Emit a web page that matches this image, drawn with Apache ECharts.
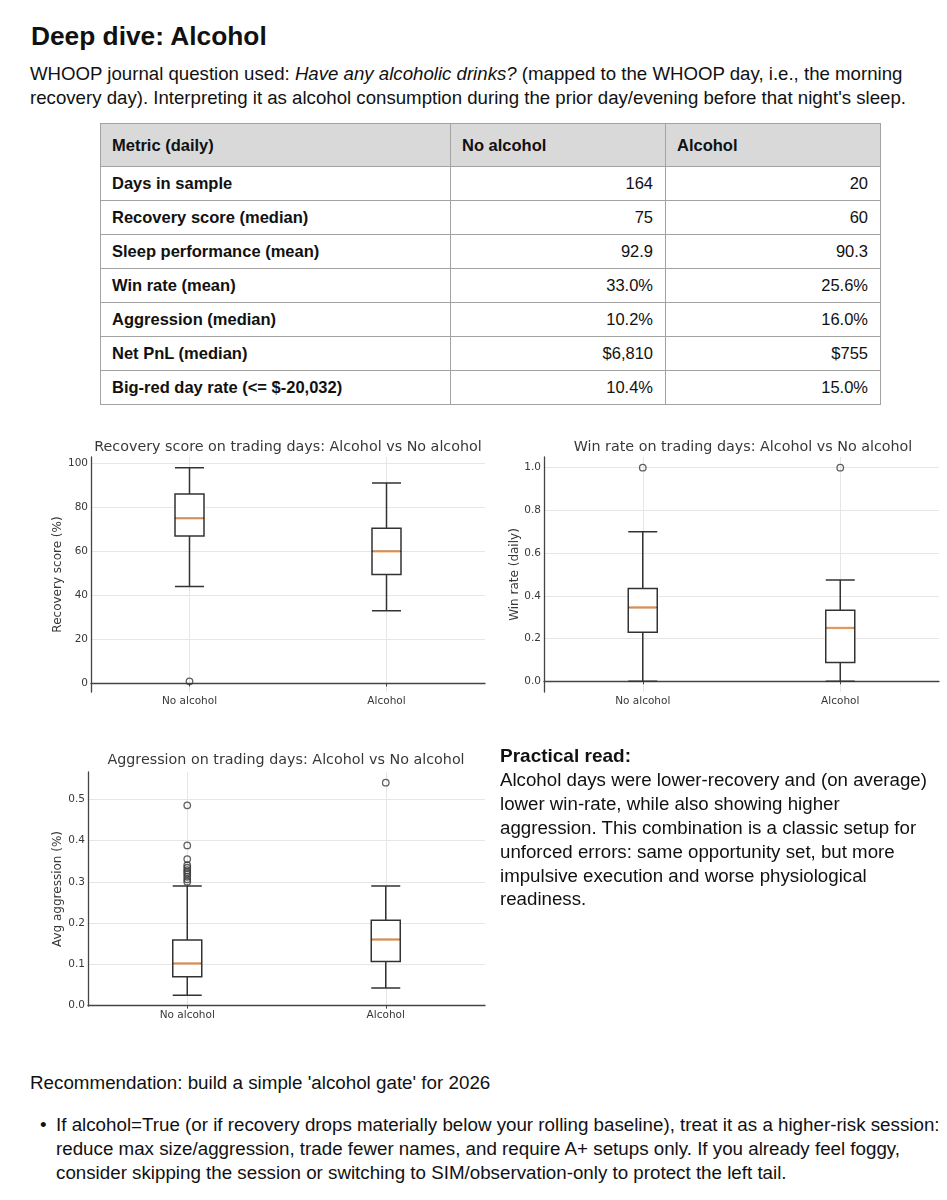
<!DOCTYPE html>
<html>
<head>
<meta charset="utf-8">
<script src="https://cdn.jsdelivr.net/npm/echarts@6/dist/echarts.min.js"></script>
<style>
  html, body { margin: 0; padding: 0; background: #fff; }
  body { width: 947px; height: 1200px; position: relative; overflow: hidden; font-family: 'Liberation Sans', Arial, sans-serif; color: #111; }
  .abs { position: absolute; white-space: nowrap; }
  #title { left: 31px; top: 23px; font-size: 26.3px; line-height: 26px; font-weight: bold; }
  #intro { left: 30px; top: 62px; font-size: 18.65px; line-height: 24.4px; }
  #tbl { position: absolute; left: 100px; top: 123px; border-collapse: collapse; table-layout: fixed; width: 780px; font-size: 16.5px; }
  #tbl td { border: 1px solid #a3a3a3; padding: 0 12px 0 11px; height: 33px; vertical-align: middle; white-space: nowrap; font-weight: bold; }
  #tbl tr.hdr td { background: #d9d9d9; height: 42px; }
  #tbl td.num { text-align: right; font-weight: normal; }
  #practical { left: 500px; top: 744px; font-size: 18.7px; line-height: 23.9px; }
  #practical b { font-size: 19px; }
  #rec { left: 30px; top: 1071px; font-size: 18.8px; line-height: 24px; }
  #bullet { left: 56px; top: 1113px; font-size: 18.75px; line-height: 24px; }
  #dot { left: 40px; top: 1113px; font-size: 18.75px; line-height: 24px; }
  #chart { position: absolute; left: 0; top: 420px; width: 947px; height: 640px; }
</style>
</head>
<body>
<div id="title" class="abs">Deep dive: Alcohol</div>
<div id="intro" class="abs">WHOOP journal question used: <i>Have any alcoholic drinks?</i> (mapped to the WHOOP day, i.e., the morning<br>recovery day). Interpreting it as alcohol consumption during the prior day/evening before that night's sleep.</div>
<table id="tbl"><colgroup><col style="width:350px"><col style="width:215px"><col style="width:215px"></colgroup><tbody id="tbody"></tbody></table>
<div id="chart"></div>
<div id="practical" class="abs"><b>Practical read:</b><br>Alcohol days were lower-recovery and (on average)<br>lower win-rate, while also showing higher<br>aggression. This combination is a classic setup for<br>unforced errors: same opportunity set, but more<br>impulsive execution and worse physiological<br>readiness.</div>
<div id="rec" class="abs">Recommendation: build a simple 'alcohol gate' for 2026</div>
<div id="dot" class="abs">•</div>
<div id="bullet" class="abs">If alcohol=True (or if recovery drops materially below your rolling baseline), treat it as a higher-risk session:<br>reduce max size/aggression, trade fewer names, and require A+ setups only. If you already feel foggy,<br>consider skipping the session or switching to SIM/observation-only to protect the left tail.</div>
<script>
// ---- Table data ----
const tableHeader = ['Metric (daily)', 'No alcohol', 'Alcohol'];
const metrics = ['Days in sample', 'Recovery score (median)', 'Sleep performance (mean)', 'Win rate (mean)', 'Aggression (median)', 'Net PnL (median)', 'Big-red day rate (<= $-20,032)'];
const noAlcoholValues = ['164', '75', '92.9', '33.0%', '10.2%', '$6,810', '10.4%'];
const alcoholValues = ['20', '60', '90.3', '25.6%', '16.0%', '$755', '15.0%'];

// ---- Chart data ----
const categories = ['No alcohol', 'Alcohol'];
// [lower whisker, Q1, median, Q3, upper whisker]
const recoveryBoxes = [[44, 67, 75, 86, 98], [33, 49.5, 60, 70.5, 91]];
const recoveryOutliers = [[0, 1]];
const recoveryTicks = [0, 20, 40, 60, 80, 100];

const winRateBoxes = [[0, 0.23, 0.346, 0.435, 0.70], [0, 0.088, 0.25, 0.333, 0.474]];
const winRateOutliers = [[0, 1.0], [1, 1.0]];
const winRateTicks = [0, 0.2, 0.4, 0.6, 0.8, 1.0];

const aggressionBoxes = [[0.025, 0.070, 0.102, 0.159, 0.290], [0.043, 0.107, 0.160, 0.207, 0.290]];
const aggressionOutliers = [[0, 0.485], [0, 0.388], [0, 0.355], [0, 0.340], [0, 0.334], [0, 0.328], [0, 0.323], [0, 0.318], [0, 0.312], [0, 0.306], [0, 0.300], [1, 0.540]];
const aggressionTicks = [0, 0.1, 0.2, 0.3, 0.4, 0.5];

const chartTitles = ['Recovery score on trading days: Alcohol vs No alcohol', 'Win rate on trading days: Alcohol vs No alcohol', 'Aggression on trading days: Alcohol vs No alcohol'];
const yNames = ['Recovery score (%)', 'Win rate (daily)', 'Avg aggression (%)'];

// build table
(function () {
  const tb = document.getElementById('tbody');
  let html = '<tr class="hdr">' + tableHeader.map(h => '<td>' + h + '</td>').join('') + '</tr>';
  metrics.forEach((m, i) => {
    html += '<tr><td>' + m.replace(/</g, '&lt;') + '</td><td class="num">' + noAlcoholValues[i] + '</td><td class="num">' + alcoholValues[i] + '</td></tr>';
  });
  tb.innerHTML = html;
})();

const chart = echarts.init(document.getElementById('chart'), null, { renderer: 'canvas' });
const FONT = 'DejaVu Sans';
const gridColor = '#e6e6e6';
const axisColor = '#444';
const labelColor = '#383838';

const grids = [
  { left: 91, top: 37, width: 394, height: 235 },
  { left: 544, top: 37, width: 395, height: 235 },
  { left: 88, top: 352, width: 397, height: 234 }
];
const yCfg = [
  { min: -3.85, max: 102.85, ticks: recoveryTicks, fmt: v => String(Math.round(v)), gap: 27 },
  { min: -0.05, max: 1.05, ticks: winRateTicks, fmt: v => v.toFixed(1), gap: 23 },
  { min: -0.0008, max: 0.5658, ticks: aggressionTicks, fmt: v => v.toFixed(1), gap: 24 }
];
const titlePos = [[288, 27], [743, 27], [286, 340]];

const xAxes = [], yAxes = [], series = [];
grids.forEach((g, i) => {
  xAxes.push({
    type: 'category', gridIndex: i, data: categories,
    axisLine: { lineStyle: { color: axisColor, width: 1.3 } },
    axisTick: { show: true, alignWithLabel: true, length: 3, lineStyle: { color: axisColor } },
    axisLabel: { color: labelColor, fontFamily: FONT, fontSize: 10.5, margin: 4 },
    splitLine: { show: false }
  });
  xAxes.push({
    type: 'value', gridIndex: i, min: 0.5, max: 2.5, position: 'bottom',
    axisLine: { show: false }, axisLabel: { show: false },
    axisTick: { show: false, customValues: [1, 2] },
    splitLine: { show: true, lineStyle: { color: gridColor, width: 1 } }
  });
  const c = yCfg[i];
  yAxes.push({
    type: 'value', gridIndex: i, min: c.min, max: c.max,
    name: yNames[i], nameLocation: 'middle', nameGap: c.gap,
    nameTextStyle: { color: labelColor, fontFamily: FONT, fontSize: 12 },
    axisLine: { show: true, lineStyle: { color: axisColor, width: 1.3 } },
    axisTick: { show: false, customValues: c.ticks },
    axisLabel: { color: labelColor, fontFamily: FONT, fontSize: 10.5, margin: 3, customValues: c.ticks, formatter: c.fmt },
    splitLine: { show: true, lineStyle: { color: gridColor, width: 1 } }
  });
});

const allBoxes = [recoveryBoxes, winRateBoxes, aggressionBoxes];
const allOutliers = [recoveryOutliers, winRateOutliers, aggressionOutliers];
allBoxes.forEach((boxes, i) => {
  series.push({
    type: 'boxplot', xAxisIndex: i * 2, yAxisIndex: i, data: boxes,
    boxWidth: [29, 29], z: 3, silent: true,
    itemStyle: { color: '#ffffff', borderColor: '#333', borderWidth: 1.5 }
  });
  series.push({
    type: 'scatter', xAxisIndex: i * 2, yAxisIndex: i, z: 4, silent: true,
    data: boxes.map((b, k) => [k, b[2]]),
    symbol: 'rect', symbolSize: [27, 2.4],
    itemStyle: { color: '#f7a866' }
  });
  series.push({
    type: 'scatter', xAxisIndex: i * 2, yAxisIndex: i, z: 5, silent: true,
    data: allOutliers[i],
    symbol: 'circle', symbolSize: 6.5,
    itemStyle: { color: 'rgba(255,255,255,0)', borderColor: '#383838', borderWidth: 1.3 }
  });
});

chart.setOption({
  animation: false,
  grid: grids,
  xAxis: xAxes,
  yAxis: yAxes,
  series: series,
  graphic: chartTitles.map((t, i) => ({
    type: 'text', x: titlePos[i][0], y: titlePos[i][1], silent: true,
    style: { text: t, fill: '#383838', font: '14.3px "DejaVu Sans"', textAlign: 'center', textVerticalAlign: 'middle' }
  }))
});
</script>
</body>
</html>
